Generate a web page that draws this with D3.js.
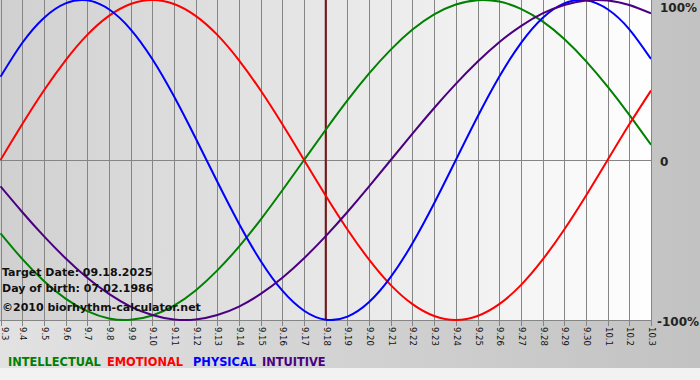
<!DOCTYPE html>
<html>
<head>
<meta charset="utf-8">
<script src="https://cdn.jsdelivr.net/npm/d3@7"></script>
<style>
  html, body { margin: 0; padding: 0; background: #fff; }
  svg { display: block; }
</style>
</head>
<body>
<svg id="chart"></svg>
<script>
// day labels 9.3 -> 10.3
const days = ["9.3","9.4","9.5","9.6","9.7","9.8","9.9","9.10","9.11","9.12","9.13","9.14","9.15","9.16","9.17","9.18","9.19","9.20","9.21","9.22","9.23","9.24","9.25","9.26","9.27","9.28","9.29","9.30","10.1","10.2","10.3"];

// daily values (-1 .. 1)
const physical = [0.520,0.731,0.888,0.979,0.998,0.942,0.817,0.631,0.398,0.136,-0.136,-0.398,-0.631,-0.817,-0.942,-0.998,-0.979,-0.888,-0.731,-0.520,-0.270,0.000,0.270,0.520,0.731,0.888,0.979,0.998,0.942,0.817,0.631];
const emotional = [0.000,0.223,0.434,0.623,0.782,0.901,0.975,1.000,0.975,0.901,0.782,0.623,0.434,0.223,0.000,-0.223,-0.434,-0.623,-0.782,-0.901,-0.975,-1.000,-0.975,-0.901,-0.782,-0.623,-0.434,-0.223,0.000,0.223,0.434];
const intellectual = [-0.458,-0.618,-0.756,-0.866,-0.945,-0.990,-0.999,-0.972,-0.910,-0.815,-0.690,-0.541,-0.372,-0.189,0.000,0.189,0.372,0.541,0.690,0.815,0.910,0.972,0.999,0.990,0.945,0.866,0.756,0.618,0.458,0.282,0.095];
const intuitive = [-0.165,-0.325,-0.476,-0.614,-0.736,-0.837,-0.916,-0.969,-0.997,-0.997,-0.969,-0.916,-0.837,-0.736,-0.614,-0.476,-0.325,-0.165,0.000,0.165,0.325,0.476,0.614,0.736,0.837,0.916,0.969,0.997,0.997,0.969,0.916];

const targetIndex = 15; // 9.18
const yTicks = [1, 0, -1];
const yTickLabels = ["100%", "0", "-100%"];

const series = [
  { name: "INTELLECTUAL", values: intellectual, color: "#008000", lx: 8 },
  { name: "EMOTIONAL", values: emotional, color: "#ff0000", lx: 107 },
  { name: "PHYSICAL", values: physical, color: "#0000ff", lx: 193 },
  { name: "INTUITIVE", values: intuitive, color: "#4b0082", lx: 262 }
];

const infoLines = ["Target Date: 09.18.2025", "Day of birth: 07.02.1986", "\u00a92010 biorhythm-calculator.net"];

const width = 700, height = 380;
const plot = { left: 0, top: 0, right: 651, bottom: 320 };

const svg = d3.select("#chart")
    .attr("width", width)
    .attr("height", height)
    .attr("font-family", "'DejaVu Sans', Verdana, sans-serif");

const defs = svg.append("defs");
const bgGrad = defs.append("linearGradient").attr("id", "bg").attr("x1", 0).attr("x2", 1);
bgGrad.append("stop").attr("offset", 0).attr("stop-color", "#e2e2e2");
bgGrad.append("stop").attr("offset", 1).attr("stop-color", "#c2c2c2");
const plotGrad = defs.append("linearGradient").attr("id", "plotbg").attr("x1", 0).attr("x2", 1);
plotGrad.append("stop").attr("offset", 0).attr("stop-color", "#d0d0d0");
plotGrad.append("stop").attr("offset", 1).attr("stop-color", "#fefefe");
defs.append("clipPath").attr("id", "clip")
  .append("rect")
    .attr("x", plot.left).attr("y", plot.top)
    .attr("width", plot.right - plot.left).attr("height", plot.bottom - plot.top + 1);

svg.append("rect").attr("width", width).attr("height", height).attr("fill", "url(#bg)");
svg.append("rect").attr("y", 368).attr("width", width).attr("height", 12).attr("fill", "#f2f2f2");
svg.append("rect")
    .attr("x", plot.left).attr("y", plot.top)
    .attr("width", plot.right - plot.left).attr("height", plot.bottom - plot.top)
    .attr("fill", "url(#plotbg)");

const x = d3.scaleLinear().domain([0, days.length - 1]).range([0.5, plot.right]);
const y = d3.scaleLinear().domain([-1, 1]).range([plot.bottom, plot.top]);

// vertical grid + ticks
const grid = svg.append("g").attr("stroke", "#858585").attr("stroke-width", 1);
grid.selectAll("line")
  .data(days)
  .join("line")
    .attr("x1", (d, i) => Math.round(x(i)) + 0.5)
    .attr("x2", (d, i) => Math.round(x(i)) + 0.5)
    .attr("y1", plot.top)
    .attr("y2", plot.bottom + 6);

grid.append("line")
    .attr("x1", plot.left).attr("x2", plot.right)
    .attr("y1", Math.round(y(0)) + 0.5).attr("y2", Math.round(y(0)) + 0.5);
grid.append("line")
    .attr("x1", plot.left).attr("x2", plot.right)
    .attr("y1", plot.bottom + 0.5).attr("y2", plot.bottom + 0.5);

// x labels, rotated
svg.append("g")
    .attr("font-size", 8.5)
    .attr("fill", "#111")
  .selectAll("text")
  .data(days)
  .join("text")
    .attr("transform", (d, i) => `translate(${Math.max(Math.round(x(i)) + 0.5, 5)},${plot.bottom + 7}) rotate(90)`)
    .attr("dy", "0.35em")
    .text(d => d);

// y labels on the right
svg.append("g")
    .attr("font-size", 12)
    .attr("font-weight", "bold")
    .attr("fill", "#222")
  .selectAll("text")
  .data(yTicks)
  .join("text")
    .attr("x", d => d < 0 ? 657 : 660)
    .attr("y", d => d === 1 ? 8 : y(d) + 2)
    .attr("dy", "0.35em")
    .text((d, i) => yTickLabels[i]);

// target day marker
svg.append("line")
    .attr("x1", x(targetIndex)).attr("x2", x(targetIndex))
    .attr("y1", plot.top).attr("y2", plot.bottom)
    .attr("stroke", "#7b1414")
    .attr("stroke-width", 2);

// curves
const line = d3.line()
    .x((d, i) => x(i))
    .y(d => y(d))
    .curve(d3.curveNatural);

svg.append("g")
    .attr("clip-path", "url(#clip)")
    .attr("fill", "none")
    .attr("stroke-width", 2)
  .selectAll("path")
  .data(series)
  .join("path")
    .attr("stroke", d => d.color)
    .attr("d", d => line(d.values));

// info text
svg.append("g")
    .attr("font-size", 11)
    .attr("font-weight", "bold")
    .attr("fill", "#111")
  .selectAll("text")
  .data(infoLines)
  .join("text")
    .attr("x", 2)
    .attr("y", (d, i) => [276, 292, 311][i])
    .text(d => d);

// legend
svg.append("g")
    .attr("font-size", 11.4)
    .attr("font-weight", "bold")
  .selectAll("text")
  .data(series)
  .join("text")
    .attr("x", d => d.lx)
    .attr("y", 366)
    .attr("fill", d => d.color)
    .text(d => d.name);
</script>
</body>
</html>
